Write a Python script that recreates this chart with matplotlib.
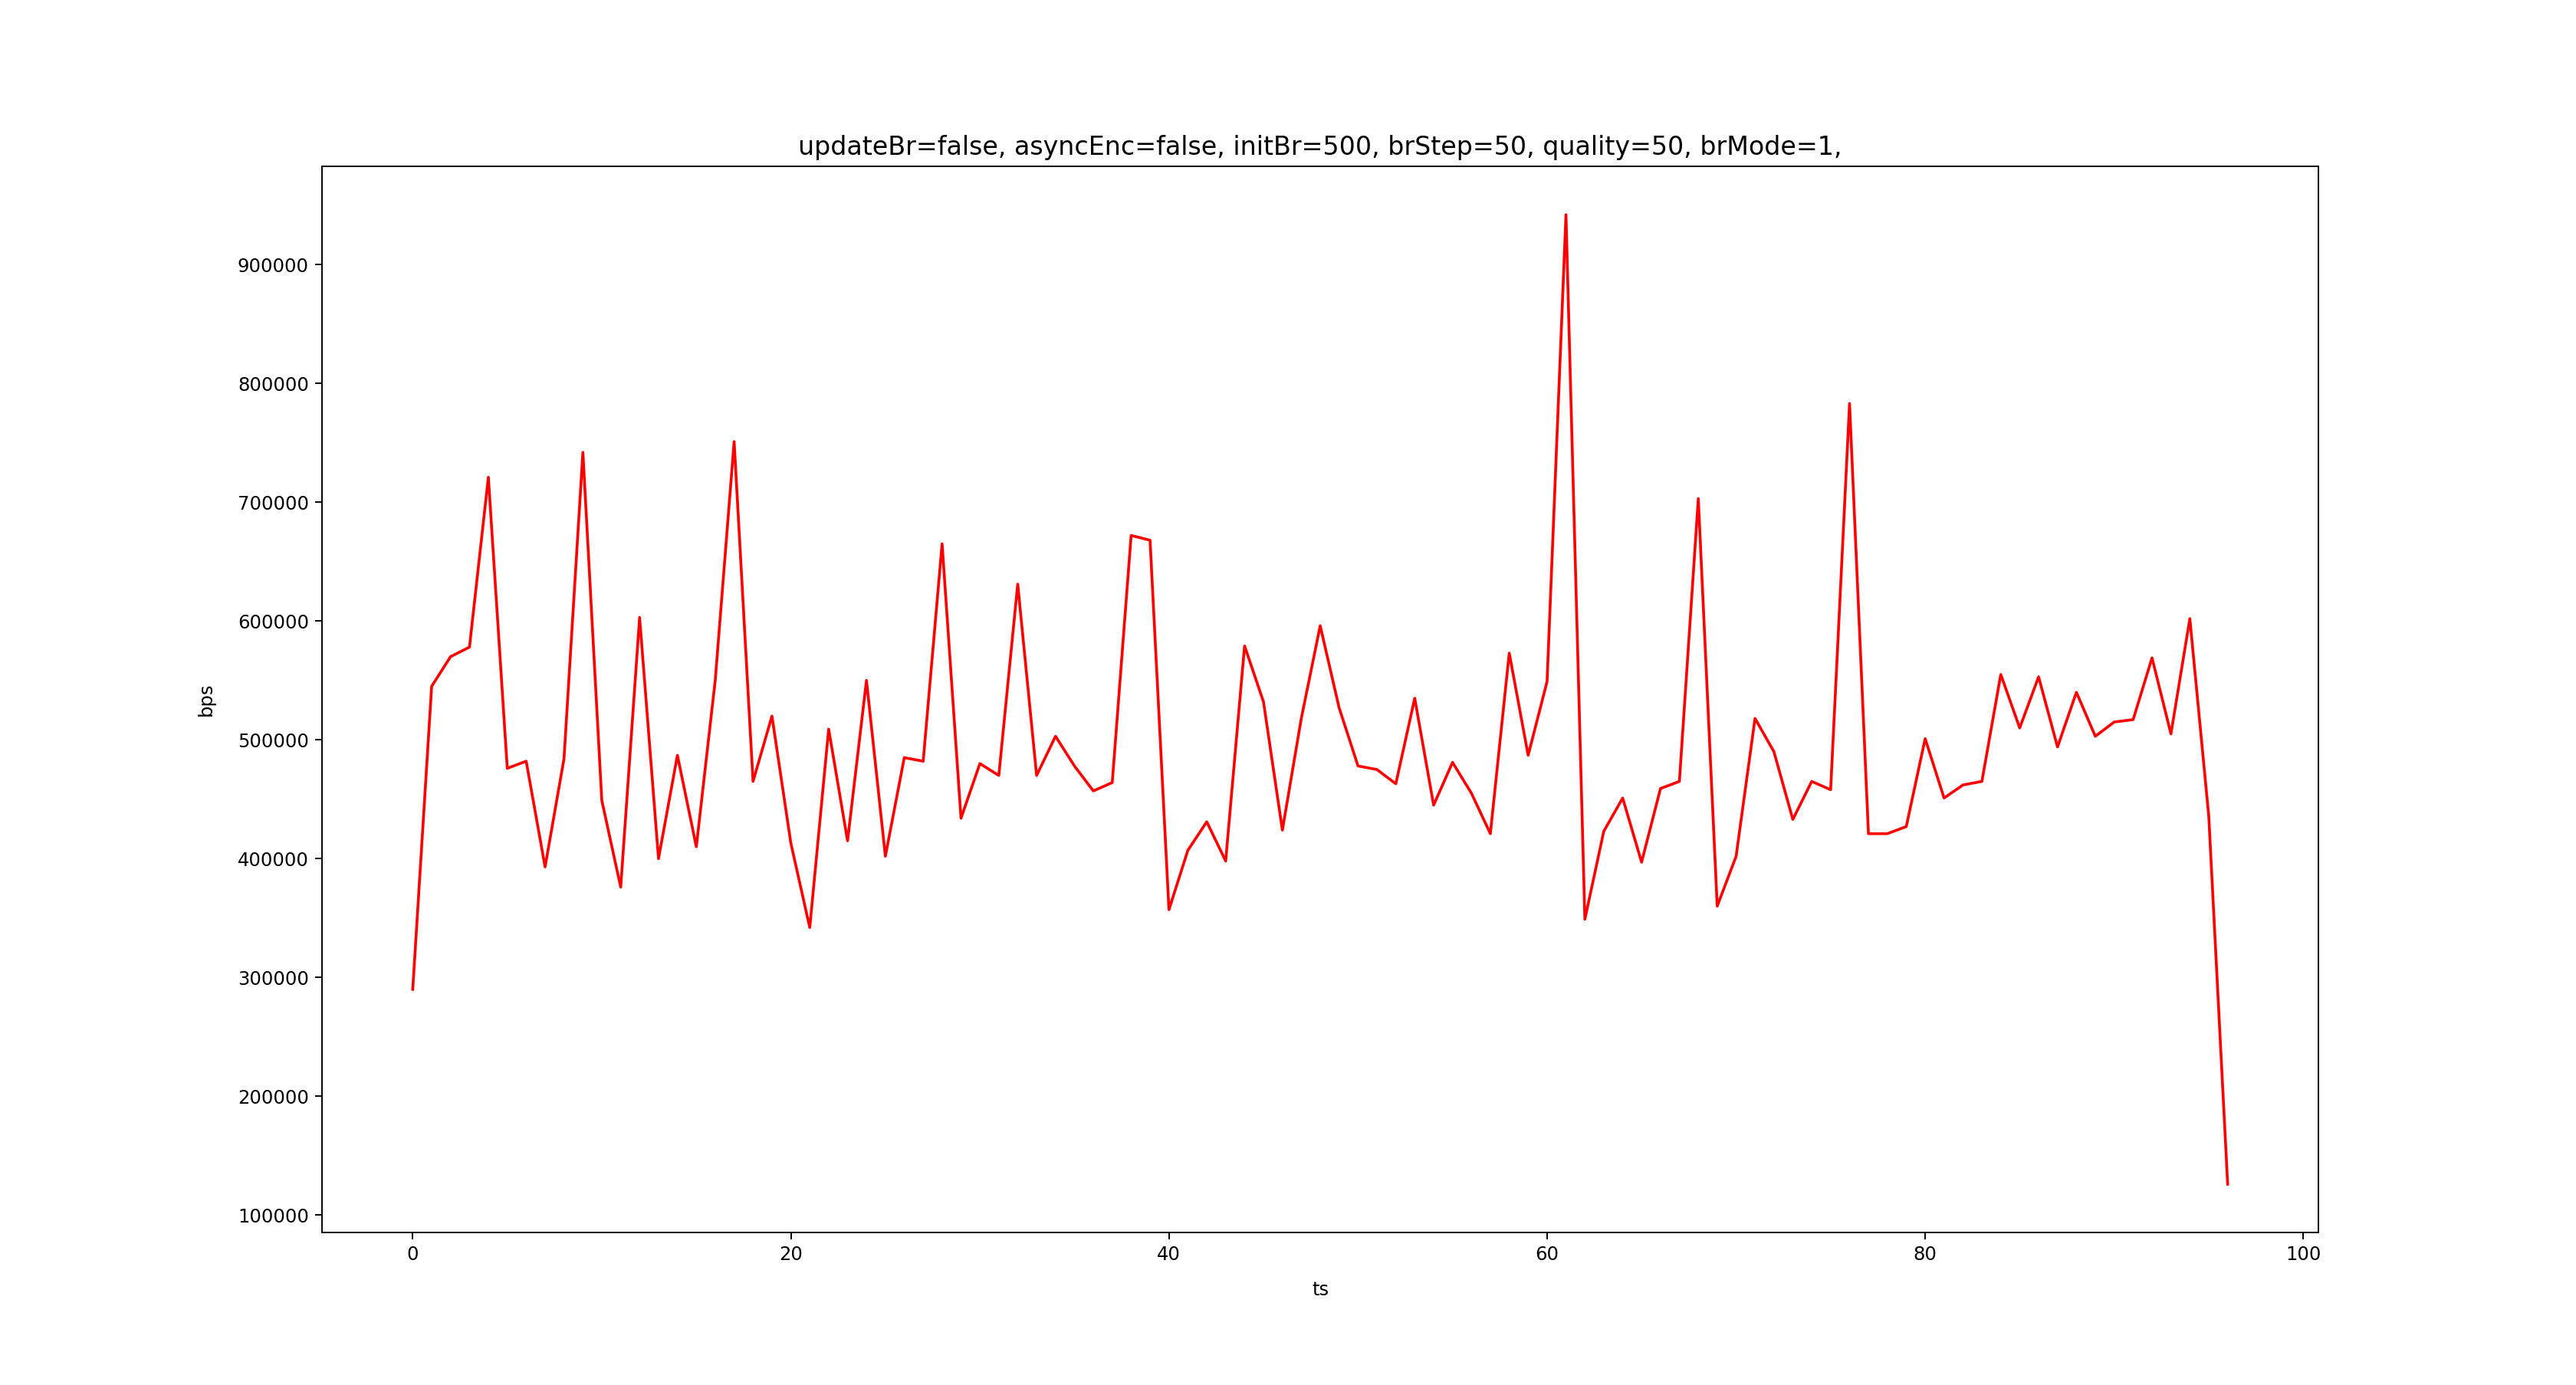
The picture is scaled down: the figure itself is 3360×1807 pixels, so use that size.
import matplotlib
matplotlib.use("Agg")
import matplotlib.pyplot as plt

# bitrate samples per timestamp
ts = list(range(97))
bps = [
    290000, 545000, 570000, 578000, 721000, 476000, 482000, 393000, 484000, 742000,
    449000, 376000, 603000, 400000, 487000, 410000, 550000, 751000, 465000, 520000,
    413000, 342000, 509000, 415000, 550000, 402000, 485000, 482000, 665000, 434000,
    480000, 470000, 631000, 470000, 503000, 478000, 457000, 464000, 672000, 668000,
    357000, 407000, 431000, 398000, 579000, 532000, 424000, 518000, 596000, 527000,
    478000, 475000, 463000, 535000, 445000, 481000, 455000, 421000, 573000, 487000,
    549000, 942000, 349000, 423000, 451000, 397000, 459000, 465000, 703000, 360000,
    402000, 518000, 490000, 433000, 465000, 458000, 783000, 421000, 421000, 427000,
    501000, 451000, 462000, 465000, 555000, 510000, 553000, 494000, 540000, 503000,
    515000, 517000, 569000, 505000, 602000, 436000, 126000,
]

title = "updateBr=false, asyncEnc=false, initBr=500, brStep=50, quality=50, brMode=1,"

fig, ax = plt.subplots(figsize=(19.2, 1807 / 175))
ax.plot(ts, bps, "r")
ax.set_title(title, fontsize=13.7)
ax.set_xlabel("ts", labelpad=9)
ax.set_ylabel("bps", labelpad=12)

fig.savefig("out.png", dpi=175)
